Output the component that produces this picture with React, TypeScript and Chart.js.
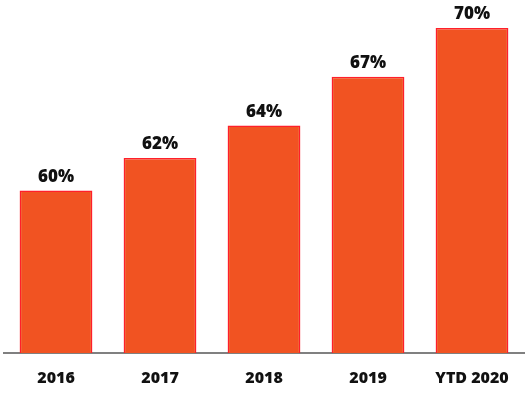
import React, { useEffect, useRef } from "react";
import { Chart, registerables } from "chart.js";

Chart.register(...registerables);

const categories = ["2016", "2017", "2018", "2019", "YTD 2020"];
const values = [60, 62, 64, 67, 70];
const valueLabels = ["60%", "62%", "64%", "67%", "70%"];

const labelPlugin = {
  id: "valueLabels",
  afterDatasetsDraw(chart: any) {
    const ctx = chart.ctx;
    const meta = chart.getDatasetMeta(0);
    ctx.save();
    ctx.font = "800 17px 'Open Sans', sans-serif";
    ctx.fillStyle = "#111111";
    ctx.textAlign = "center";
    ctx.textBaseline = "alphabetic";
    meta.data.forEach((bar: any, i: number) => {
      ctx.fillText(valueLabels[i], bar.x, bar.y - 9);
    });
    ctx.restore();
  },
};

export default function App() {
  const ref = useRef<HTMLCanvasElement | null>(null);
  useEffect(() => {
    document.body.style.margin = "0";
    const chart = new Chart(ref.current as HTMLCanvasElement, {
      type: "bar",
      data: {
        labels: categories,
        datasets: [
          {
            data: values,
            backgroundColor: "#f15322",
            borderColor: "#ff1f2a",
            borderWidth: 1.5,
            barPercentage: 0.7,
            categoryPercentage: 1,
          },
        ],
      },
      options: {
        animation: false,
        responsive: false,
        maintainAspectRatio: false,
        layout: { padding: { top: 28, left: 4, right: 4, bottom: 0 } },
        plugins: { legend: { display: false }, tooltip: { enabled: false } },
        scales: {
          y: { display: false, min: 50, max: 70 },
          x: {
            afterFit(scale: any) {
              scale.height = 40;
            },
            grid: { display: false, drawTicks: false },
            border: { display: true, color: "#808080", width: 2 },
            ticks: {
              color: "#111111",
              padding: 16,
              font: { family: "'Open Sans', sans-serif", weight: "800", size: 16 },
            },
          },
        },
      },
      plugins: [labelPlugin],
    });
    return () => chart.destroy();
  }, []);
  return (
    <div style={{ width: 528, height: 393, background: "#fff" }}>
      <canvas ref={ref} width={528} height={393} />
    </div>
  );
}
